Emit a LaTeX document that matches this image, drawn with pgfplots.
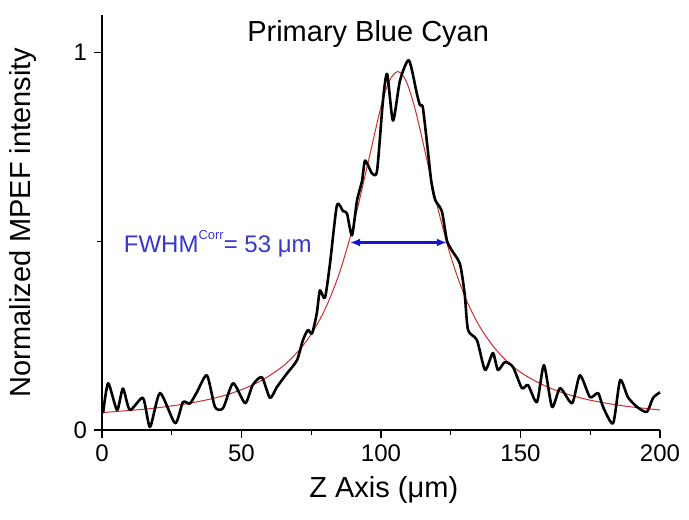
\documentclass[border=0pt]{standalone}
\usepackage{fontspec}
\setmainfont{Liberation Sans}
\usepackage{pgfplots}
\pgfplotsset{compat=1.18}
\usetikzlibrary{arrows.meta}
\definecolor{fitred}{RGB}{205,45,45}
\definecolor{fwhmblue}{RGB}{20,20,210}
\definecolor{labblue}{RGB}{55,55,200}

\begin{document}
\begin{tikzpicture}
\begin{axis}[
  scale only axis, width=279pt, height=207.5pt,
  xmin=0, xmax=200, ymin=0, ymax=1.1,
  axis lines*=left, axis line style={line width=0.6pt},
  tick align=outside, tick style={black, line width=0.6pt},
  major tick length=4pt, minor tick length=2.5pt,
  xtick={0,50,100,150,200}, minor x tick num=1,
  ytick={0,1}, minor ytick={0.5},
  ticklabel style={font=\fontsize{12}{14}\selectfont},
  /pgf/number format/assume math mode=true,
  xlabel={Z Axis (μm)}, ylabel={Normalized MPEF intensity},
  xlabel style={font=\fontsize{14.5}{17}\selectfont, at={(axis description cs:0.505,-0.096)}, anchor=north},
  ylabel style={font=\fontsize{14.5}{17}\selectfont, at={(axis description cs:-0.104,0.5)}, anchor=south, rotate=0},
  clip=false,
]
\coordinate (o) at (axis cs:0,0);
% fitted profile
\addplot[fitred, line width=0.5pt, smooth] coordinates {
(0,0.046) (5,0.049) (10,0.052) (15,0.055) (20,0.059) (25,0.064) (30,0.069) (35,0.076)
(40,0.084) (45,0.094) (50,0.107) (55,0.123) (60,0.144) (65,0.170) (70,0.206) (75,0.254)
(80,0.321) (85,0.414) (90,0.540) (95,0.697) (100,0.857) (103,0.925) (106,0.950) (109,0.925)
(112,0.857) (115,0.764) (120,0.599) (125,0.460) (130,0.355) (135,0.279) (140,0.224) (145,0.183)
(150,0.153) (155,0.131) (160,0.113) (165,0.099) (170,0.088) (175,0.079) (180,0.072) (185,0.066)
(190,0.061) (195,0.057) (200,0.053)};
% measured profile
\addplot[black, line width=1.3pt, line join=round, smooth, tension=0.4] coordinates {
(0.4,0.045) (2.2,0.124) (5.4,0.053) (7.5,0.11) (10,0.053) (14.7,0.085) (17.2,0.008) (20.8,0.098)
(26.2,0.018) (29,0.074) (31.5,0.07) (34,0.1) (37.6,0.145) (40.5,0.061) (43.4,0.058) (47,0.124)
(51.3,0.071) (54,0.119) (57.3,0.14) (60.2,0.085) (62.7,0.114) (66.3,0.15) (69.9,0.185) (72,0.238)
(73.8,0.265) (75.3,0.256) (77,0.31) (78.1,0.37) (79.9,0.35) (81.7,0.44) (84.2,0.595) (86.4,0.58)
(87.8,0.574) (89.6,0.516) (91.4,0.608) (93.2,0.66) (94.3,0.714) (96.8,0.68) (98.6,0.688) (100.7,0.873)
(102.2,0.944) (104.3,0.82) (106.8,0.926) (110,0.98) (112.9,0.89) (114,0.86) (115,0.855) (116.8,0.74)
(118,0.66) (119.4,0.61) (121.8,0.58) (123.6,0.503) (125.4,0.476) (128.3,0.44) (130,0.36) (131.2,0.265)
(134.4,0.238) (137.3,0.159) (140.1,0.204) (141.9,0.159) (144.4,0.18) (147.3,0.167) (150.5,0.111) (152.7,0.119)
(155.9,0.074) (158.4,0.172) (161.3,0.061) (164.2,0.111) (168.5,0.071) (171.3,0.145) (174.9,0.087) (177.8,0.098)
(179.6,0.061) (183.2,0.018) (185.7,0.132) (188.5,0.087) (191.8,0.061) (195.3,0.048) (197.5,0.085) (200,0.1)};
% FWHM arrow
\addplot[fwhmblue, line width=1.2pt, {Latex[length=5pt,width=4pt]}-{Latex[length=5pt,width=4pt]}] coordinates {(88.9,0.497) (123.6,0.497)};
\node[anchor=base east, text=labblue, font=\fontsize{12}{14}\selectfont, inner sep=0pt] at (axis cs:75.3,0.471) {FWHM\raisebox{0.55em}{\fontsize{6.5}{7}\selectfont Corr}= 53 μm};
\node[anchor=base, font=\fontsize{14.5}{17}\selectfont, inner sep=0pt] at (axis description cs:0.477,0.935) {Primary Blue Cyan};
\end{axis}
\path (o) ++(-51pt,-44.5pt) rectangle ++(344.5pt,259.5pt);
\end{tikzpicture}
\end{document}
